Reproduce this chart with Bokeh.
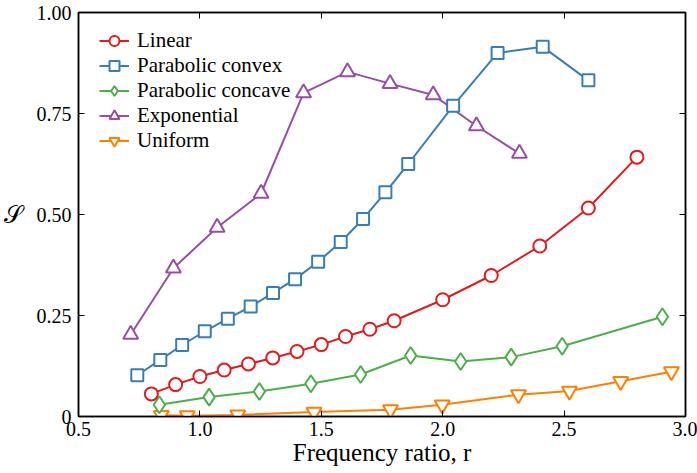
from bokeh.plotting import figure
from bokeh.models import (LinearAxis, Legend, LegendItem, FixedTicker,
                          CustomJSTickFormatter, Range1d)
from bokeh.embed import file_html
from bokeh.resources import INLINE

# ---------------- data ----------------
linear_x = [0.8, 0.9, 1.0, 1.1, 1.2, 1.3, 1.4, 1.5, 1.6, 1.7, 1.8, 2.0, 2.2, 2.4, 2.6, 2.8]
linear_y = [0.056, 0.079, 0.099, 0.115, 0.130, 0.145, 0.161, 0.178, 0.198, 0.216, 0.237,
            0.289, 0.349, 0.422, 0.516, 0.642]

convex_x = [0.742, 0.837, 0.927, 1.020, 1.115, 1.209, 1.301, 1.392, 1.487, 1.580, 1.672,
            1.764, 1.858, 2.043, 2.226, 2.412, 2.600]
convex_y = [0.102, 0.140, 0.177, 0.211, 0.242, 0.272, 0.306, 0.340, 0.383, 0.432, 0.489,
            0.555, 0.625, 0.769, 0.900, 0.915, 0.832]

concave_x = [0.833, 1.038, 1.245, 1.457, 1.662, 1.868, 2.074, 2.282, 2.492, 2.905]
concave_y = [0.029, 0.048, 0.062, 0.081, 0.104, 0.151, 0.136, 0.147, 0.174, 0.247]

exp_x = [0.715, 0.891, 1.071, 1.252, 1.427, 1.608, 1.783, 1.961, 2.139, 2.316]
exp_y = [0.203, 0.367, 0.468, 0.552, 0.801, 0.853, 0.824, 0.796, 0.719, 0.651]

uniform_x = [0.841, 0.948, 1.156, 1.470, 1.785, 1.998, 2.312, 2.522, 2.733, 2.942]
uniform_y = [0.003, 0.002, 0.004, 0.011, 0.017, 0.029, 0.054, 0.063, 0.087, 0.111]

series_names = ["Linear", "Parabolic convex", "Parabolic concave", "Exponential", "Uniform"]

x_ticks = [0.5, 1.0, 1.5, 2.0, 2.5, 3.0]
x_tick_labels = ["0.5", "1.0", "1.5", "2.0", "2.5", "3.0"]
y_ticks = [0.0, 0.25, 0.5, 0.75, 1.0]
y_tick_labels = ["0", "0.25", "0.50", "0.75", "1.00"]

x_label = "Frequency ratio, r"
y_label = "\U0001D4AE"

# ---------------- style ----------------
FONT = "Liberation Serif"
RED, BLUE, GREEN, PURPLE, ORANGE = "#e41a1c", "#377eb8", "#4daf4a", "#984ea3", "#ff7f00"

p = figure(width=697, height=473, x_range=Range1d(0.5, 3.0), y_range=Range1d(0.0, 1.0),
           output_backend="svg", toolbar_location=None,
           min_border_left=77, min_border_right=12, min_border_top=12, min_border_bottom=57)
p.grid.visible = False
p.outline_line_color = "black"
p.outline_line_width = 1.5
p.background_fill_color = "white"
p.border_fill_color = "white"

xa = p.xaxis[0]
ya = p.yaxis[0]
xa.ticker = FixedTicker(ticks=x_ticks)
ya.ticker = FixedTicker(ticks=y_ticks)
xa.major_label_overrides = dict(zip(x_ticks, x_tick_labels))
ya.major_label_overrides = dict(zip(y_ticks, y_tick_labels))
for ax in (xa, ya):
    ax.major_tick_in = 6
    ax.major_tick_out = 0
    ax.minor_tick_in = 0
    ax.minor_tick_out = 0
    ax.axis_line_color = "black"
    ax.axis_line_width = 1.5
    ax.major_tick_line_color = "black"
    ax.major_label_text_font = FONT
    ax.major_label_text_font_size = "20px"
    ax.major_label_text_color = "black"
xa.major_label_standoff = 5
ya.major_label_standoff = 7

ya.axis_label = y_label
ya.axis_label_orientation = "horizontal"
ya.axis_label_text_font = FONT
ya.axis_label_text_font_style = "normal"
ya.axis_label_text_font_size = "24px"
ya.axis_label_standoff = 11
ya.axis_label_text_color = "black"

xa.axis_label = x_label
xa.axis_label_text_font = FONT
xa.axis_label_text_font_style = "normal"
xa.axis_label_text_font_size = "25px"
xa.axis_label_standoff = 0
xa.axis_label_text_color = "black"

for loc, tks in (("above", x_ticks), ("right", y_ticks)):
    ax = LinearAxis(ticker=FixedTicker(ticks=tks),
                    formatter=CustomJSTickFormatter(code="return ''"),
                    major_tick_in=6, major_tick_out=0, minor_tick_in=0, minor_tick_out=0,
                    major_label_standoff=0, major_label_text_font_size="1px",
                    axis_line_color="black", axis_line_width=1.5)
    p.add_layout(ax, loc)

LW = 2
def series(xs, ys, color, marker, size):
    l = p.line(xs, ys, line_color=color, line_width=LW)
    s = p.scatter(xs, ys, marker=marker, size=size, line_color=color,
                  line_width=LW, fill_color="white")
    return [l, s]

r_uni = series(uniform_x, uniform_y, ORANGE, "inverted_triangle", 15)
r_exp = series(exp_x, exp_y, PURPLE, "triangle", 15)
r_con = series(concave_x, concave_y, GREEN, "diamond", 17)
r_cvx = series(convex_x, convex_y, BLUE, "square", 12)
r_lin = series(linear_x, linear_y, RED, "circle", 13)

legend = Legend(items=[LegendItem(label=n, renderers=r) for n, r in
                       zip(series_names, [r_lin, r_cvx, r_con, r_exp, r_uni])],
                location=(21, 263), orientation="vertical",
                glyph_width=30, glyph_height=25, spacing=0, padding=0, margin=0,
                label_standoff=8, label_text_font=FONT, label_text_font_size="21px",
                label_text_color="black", label_text_baseline="middle",
                border_line_color=None, background_fill_alpha=0)
p.add_layout(legend, "center")

open("out.html", "w").write(file_html(p, INLINE))
